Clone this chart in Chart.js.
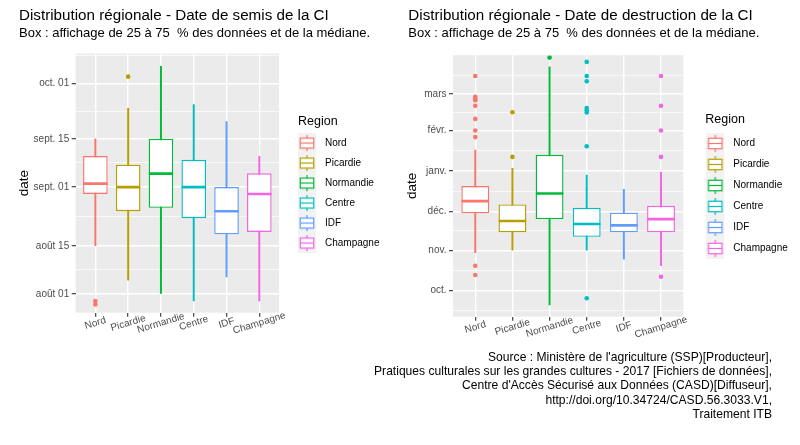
<!DOCTYPE html>
<html><head><meta charset="utf-8">
<script src="https://cdn.jsdelivr.net/npm/chart.js@4.4.1/dist/chart.umd.min.js"></script>
<style>
html,body{margin:0;padding:0;background:#fff;width:800px;height:445px;overflow:hidden;}
#c1{position:absolute;left:0;top:0;}
#c2{position:absolute;left:395px;top:0;}
#cap{position:absolute;right:28px;top:350px;text-align:right;font-family:"Liberation Sans",Arial,sans-serif;font-size:12.1px;line-height:14.2px;color:#000;white-space:nowrap;z-index:2;}
</style></head><body>
<canvas id="c1" width="395" height="445"></canvas>
<canvas id="c2" width="405" height="445"></canvas>
<div id="cap">Source : Ministère de l'agriculture (SSP)[Producteur],<br>Pratiques culturales sur les grandes cultures - 2017 [Fichiers de données],<br>Centre d'Accès Sécurisé aux Données (CASD)[Diffuseur],<br>http://doi.org/10.34724/CASD.56.3033.V1,<br>Traitement ITB</div>
<script>
// ---------- data ----------
const regions = ['Nord', 'Picardie', 'Normandie', 'Centre', 'IDF', 'Champagne'];

// Date de semis : days after 2017-08-01
const semisLow     = [14, 4, 0, -2, 5, -2];
const semisQ1      = [29, 24, 25, 22, 17.3, 18];
const semisMedian  = [32, 31, 34.9, 31, 24, 29];
const semisQ3      = [40, 37.5, 45, 38.9, 31, 35];
const semisHigh    = [45, 53.8, 66, 54.9, 50, 39.9];
const semisOutliers = [[-2, -3], [63], [], [], [], []];
const semisTickDays   = [0, 14, 31, 45, 61];
const semisTickLabels = ['août 01', 'août 15', 'sept. 01', 'sept. 15', 'oct. 01'];

// Date de destruction : days after 2017-10-01
const destrLow     = [29.2, 31.2, -11, 31.2, 24.3, 19.2];
const destrQ1      = [59.4, 44.8, 55, 41.4, 44.8, 44.8];
const destrMedian  = [68.8, 53.5, 74.7, 51.2, 50.2, 55];
const destrQ3      = [80.4, 66.3, 104.4, 63.7, 59.9, 65.2];
const destrHigh    = [108, 94, 172, 88.8, 77.8, 90.9];
const destrOutliers = [
  [165, 148.9, 147.7, 146.4, 142, 132, 123.1, 118, 19.2, 12],
  [137.1, 102.8],
  [179.1],
  [175.8, 165, 160.9, 140.4, 138.7, 136.9, 111, -5.8],
  [],
  [165, 142, 123.1, 102.8, 10.7]
];
const destrTickDays   = [0, 31, 61, 92, 123, 151];
const destrTickLabels = ['oct.', 'nov.', 'déc.', 'janv.', 'févr.', 'mars'];

// ---------- styling ----------
const FONT = '"Liberation Sans", Arial, sans-serif';
const colors = ['#F8766D', '#B79F00', '#00BA38', '#00BFC4', '#619CFF', '#F564E3'];
Chart.defaults.font.family = FONT;

function keyGlyph(color, h) {
  const c = document.createElement('canvas');
  c.width = 32; c.height = h;
  const g = c.getContext('2d');
  g.fillStyle = '#F2F2F2'; g.fillRect(0, 0, 18, h);
  g.strokeStyle = color; g.lineWidth = 1.2;
  g.beginPath();
  g.moveTo(9, 0.1 * h); g.lineTo(9, 0.25 * h);
  g.moveTo(9, 0.75 * h); g.lineTo(9, 0.9 * h);
  g.stroke();
  g.fillStyle = '#fff'; g.fillRect(2.25, 0.25 * h, 13.5, 0.5 * h);
  g.strokeRect(2.25, 0.25 * h, 13.5, 0.5 * h);
  g.beginPath(); g.moveTo(2.25, 0.5 * h); g.lineTo(15.75, 0.5 * h); g.stroke();
  return c;
}

const panelBg = {
  id: 'panelBg',
  beforeDraw(chart) {
    const a = chart.chartArea, g = chart.ctx;
    g.save(); g.fillStyle = '#EBEBEB';
    g.fillRect(a.left, a.top, a.right - a.left, a.bottom - a.top);
    g.restore();
  }
};
const xLabels = {
  id: 'xLabels',
  afterDraw(chart) {
    const s = chart.scales.x, g = chart.ctx;
    g.save();
    g.font = '10px ' + FONT; g.fillStyle = '#4D4D4D';
    g.textAlign = 'center'; g.textBaseline = 'middle';
    regions.forEach((r, i) => {
      g.save();
      g.translate(s.getPixelForValue(i), chart.chartArea.bottom + 10.5);
      g.rotate(-17 * Math.PI / 180);
      g.fillText(r, 0, 0);
      g.restore();
    });
    g.restore();
  }
};

function makeChart(id, o) {
  const idx = regions.map((_, i) => i);
  const unit = s => Math.abs(s.getPixelForValue(1) - s.getPixelForValue(0));
  const majorSet = new Set(o.tickDays);
  const n = o.tickDays.length;
  const minor = [];
  for (let i = 0; i < n - 1; i++) minor.push((o.tickDays[i] + o.tickDays[i + 1]) / 2);
  minor.push(o.tickDays[0] - (o.tickDays[1] - o.tickDays[0]) / 2);
  minor.push(o.tickDays[n - 1] + (o.tickDays[n - 1] - o.tickDays[n - 2]) / 2);
  const allTicks = o.tickDays.concat(minor).filter(v => v >= o.min && v <= o.max).sort((a, b) => a - b);
  const outData = [];
  o.outliers.forEach((arr, i) => arr.forEach(v => outData.push({ x: i, y: v })));
  const outColors = outData.map(p => colors[p.x]);
  const isMajor = c => c.tick && majorSet.has(c.tick.value);

  return new Chart(document.getElementById(id), {
    type: 'bar',
    data: {
      datasets: [
        { type: 'bar', label: 'whisker', order: 3, grouped: false,
          data: idx.map(i => ({ x: i, y: [o.low[i], o.high[i]] })),
          backgroundColor: colors, borderWidth: 0, barThickness: 1.3 },
        { type: 'bar', label: 'box', order: 2, grouped: false,
          data: idx.map(i => ({ x: i, y: [o.q1[i], o.q3[i]] })),
          backgroundColor: '#FFFFFF', borderColor: colors, borderWidth: 1.4, borderSkipped: false,
          barPercentage: 0.75, categoryPercentage: 1 },
        { type: 'scatter', label: 'median', order: 1,
          data: idx.map(i => ({ x: i, y: o.median[i] })),
          pointStyle: 'line', pointBorderColor: colors, pointBorderWidth: 2.6,
          pointRadius: ctx => unit(ctx.chart.scales.x) * 0.37 },
        { type: 'scatter', label: 'outliers', order: 0,
          data: outData, pointStyle: 'circle', pointRadius: 2.3,
          pointBackgroundColor: outColors, pointBorderWidth: 0 }
      ]
    },
    options: {
      responsive: false, animation: false, events: [],
      layout: { padding: { left: o.padL, right: o.padR, top: 0, bottom: 0 } },
      scales: {
        x: {
          type: 'linear', min: -0.6, max: 5.6, offset: false,
          afterBuildTicks: s => { s.ticks = idx.map(v => ({ value: v })); },
          afterFit: s => { s.height = o.xHeight; },
          grid: { offset: false, color: '#FFFFFF', lineWidth: 1.4, tickColor: '#333333', tickWidth: 1.1, tickLength: 4 },
          border: { display: false },
          ticks: { display: false }
        },
        y: {
          type: 'linear', position: 'left', min: o.min, max: o.max,
          afterBuildTicks: s => { s.ticks = allTicks.map(v => ({ value: v })); },
          afterFit: s => { s.width = o.yWidth; },
          grid: {
            color: '#FFFFFF',
            lineWidth: c => isMajor(c) ? 1.4 : 0.7,
            tickColor: c => isMajor(c) ? '#333333' : 'rgba(0,0,0,0)',
            tickWidth: 1.1, tickLength: 4
          },
          border: { display: false },
          ticks: {
            autoSkip: false, padding: 2.5, color: '#4D4D4D', font: { size: 10 },
            callback: v => { const k = o.tickDays.indexOf(v); return k >= 0 ? o.tickLabels[k] : ''; }
          },
          title: { display: true, text: 'date', color: '#000', font: { size: 13.5, lineHeight: 1 },
                   padding: { top: o.yTitlePad, bottom: 0 } }
        },
        gap: {
          type: 'linear', position: 'right', display: true,
          grid: { display: false }, border: { display: false }, ticks: { display: false },
          afterFit: s => { s.width = o.gap; }
        }
      },
      plugins: {
        tooltip: { enabled: false },
        title: { display: true, text: o.title, align: 'start', color: '#000',
                 font: { size: 15.2, weight: 'normal', lineHeight: 1.2 }, padding: { top: 6.5, bottom: 0 } },
        subtitle: { display: true, text: 'Box : affichage de 25 à 75  % des données et de la médiane.',
                    align: 'start', color: '#000', font: { size: 13, weight: 'normal', lineHeight: 1.2 },
                    padding: { top: 1.2, bottom: o.subBottom } },
        legend: {
          display: true, position: 'right', fullSize: false, maxWidth: 88, onClick: null,
          title: { display: true, text: 'Region', position: 'start', color: '#000',
                   font: { size: 12.5, lineHeight: 1 }, padding: { top: o.legTitleTop, bottom: o.legTitleBottom } },
          labels: {
            usePointStyle: true, pointStyleWidth: 12, boxHeight: 10, padding: o.legPad,
            color: '#000', font: { size: 10 },
            generateLabels: () => regions.map((r, i) => ({
              text: r, pointStyle: keyGlyph(colors[i], o.keyH),
              fillStyle: colors[i], strokeStyle: colors[i], lineWidth: 0, hidden: false, datasetIndex: 0
            }))
          }
        }
      }
    },
    plugins: [panelBg, xLabels]
  });
}

makeChart('c1', {
  title: 'Distribution régionale - Date de semis de la CI',
  low: semisLow, q1: semisQ1, median: semisMedian, q3: semisQ3, high: semisHigh, outliers: semisOutliers,
  tickDays: semisTickDays, tickLabels: semisTickLabels,
  min: -5.4, max: 69.7,
  padL: 19, padR: 9, yWidth: 56.7, gap: 19, xHeight: 132.3, yTitlePad: -1.25, subBottom: 12,
  legPad: 10, keyH: 20, legTitleTop: 6.8, legTitleBottom: 0.7
});
makeChart('c2', {
  title: 'Distribution régionale - Date de destruction de la CI',
  low: destrLow, q1: destrQ1, median: destrMedian, q3: destrQ3, high: destrHigh, outliers: destrOutliers,
  tickDays: destrTickDays, tickLabels: destrTickLabels,
  min: -20, max: 180.9,
  padL: 13.3, padR: 6.7, yWidth: 44.7, gap: 22, xHeight: 128.3, yTitlePad: -2.55, subBottom: 13.7,
  legPad: 11, keyH: 21, legTitleTop: 5.7, legTitleBottom: 1.8
});
</script>
</body></html>
